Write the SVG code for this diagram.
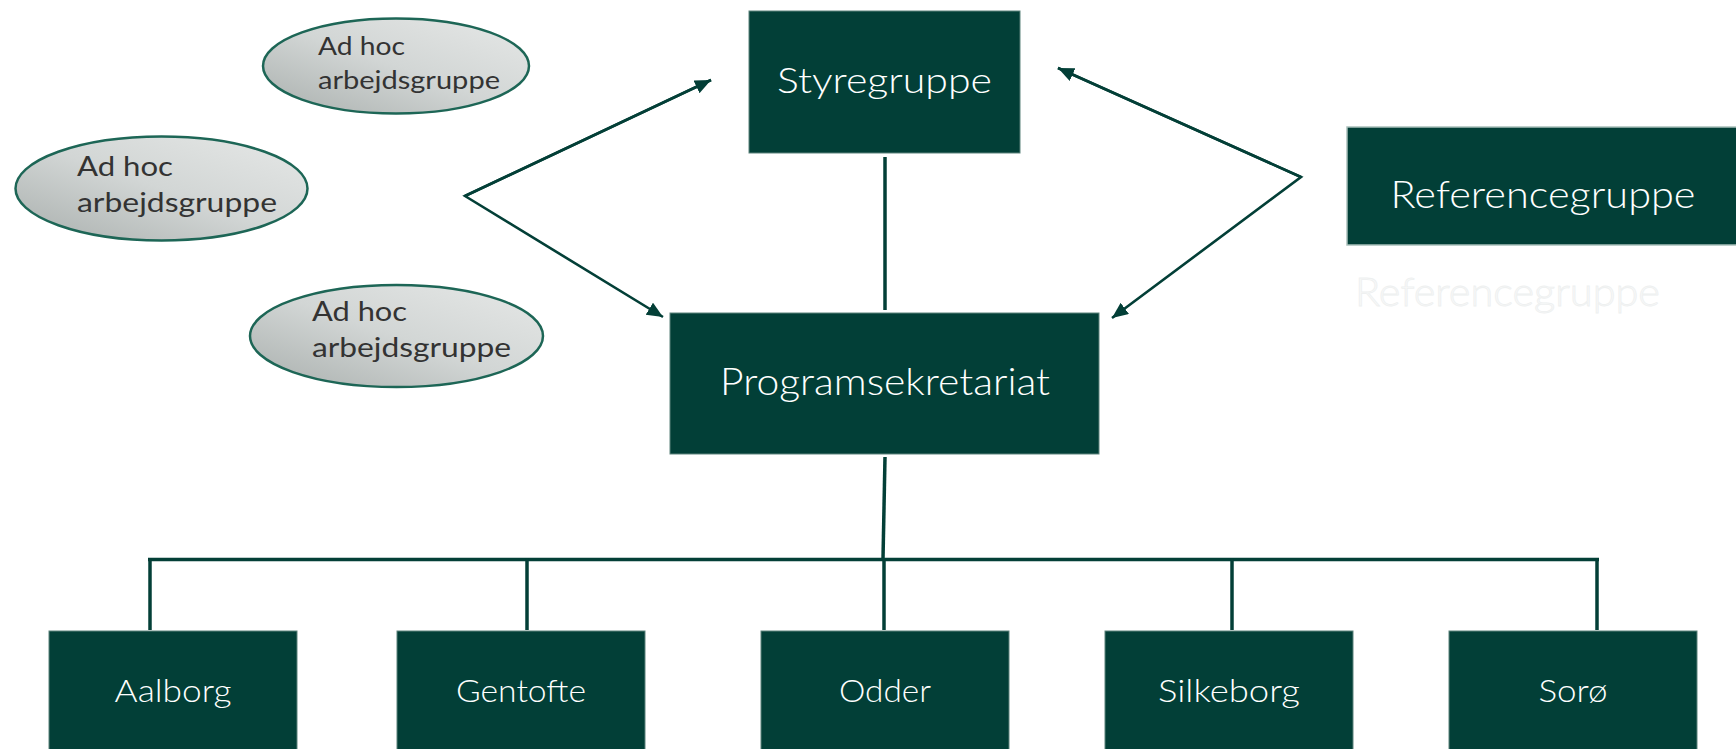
<svg xmlns="http://www.w3.org/2000/svg" width="1736" height="749" viewBox="0 0 1736 749">
  <defs>
    <linearGradient id="ellGrad" x1="1" y1="0" x2="0" y2="1">
      <stop offset="0" stop-color="#e6e8e7"/>
      <stop offset="0.5" stop-color="#d2d6d5"/>
      <stop offset="1" stop-color="#a9afad"/>
    </linearGradient>
    <marker id="arrow" markerUnits="userSpaceOnUse" markerWidth="18" markerHeight="16" refX="16" refY="7" orient="auto">
      <path d="M0,0 L16,7 L0,14 Z" fill="#033f37"/>
    </marker>
  </defs>
  <style>
    .box { fill: #023f37; stroke: #5d837c; stroke-width: 1; }
    .boxText { font-family: Lato, "Open Sans", "Liberation Sans", sans-serif; font-weight: 300; fill: #ffffff; text-anchor: middle; }
    .ell { fill: url(#ellGrad); stroke: #1d6656; stroke-width: 2.5; }
    .ellText { font-family: Lato, "Open Sans", "Liberation Sans", sans-serif; font-weight: 400; fill: #333333; }
    .conn { stroke: #033f37; fill: none; }
  </style>
  <rect width="1736" height="749" fill="#ffffff"/>

  <g id="connectors">
    <line class="conn" x1="885" y1="157" x2="885" y2="310" stroke-width="3.5"/>
    <line class="conn" x1="885" y1="457" x2="883" y2="559" stroke-width="3.5"/>
    <line class="conn" x1="148" y1="559.5" x2="1599" y2="559.5" stroke-width="3.5"/>
    <line class="conn" x1="150" y1="558" x2="150" y2="630" stroke-width="3.5"/>
    <line class="conn" x1="527" y1="558" x2="527" y2="630" stroke-width="3.5"/>
    <line class="conn" x1="884" y1="558" x2="884" y2="630" stroke-width="3.5"/>
    <line class="conn" x1="1232" y1="558" x2="1232" y2="630" stroke-width="3.5"/>
    <line class="conn" x1="1597" y1="558" x2="1597" y2="630" stroke-width="3.5"/>
    <polyline class="conn" points="711,80 465,196 663,317" stroke-width="2.6" marker-end="url(#arrow)"/>
    <line class="conn" x1="465" y1="196" x2="711" y2="80" stroke-width="2.6" marker-end="url(#arrow)"/>
    <polyline class="conn" points="1058,68 1301,177 1112,318" stroke-width="2.6" marker-end="url(#arrow)"/>
    <line class="conn" x1="1301" y1="177" x2="1058" y2="68" stroke-width="2.6" marker-end="url(#arrow)"/>
  </g>

  <g id="adhoc1">
    <ellipse class="ell" cx="396" cy="66" rx="133" ry="47.5"/>
    <text class="ellText" font-size="25" lengthAdjust="spacingAndGlyphs"><tspan x="318" y="55" textLength="87" lengthAdjust="spacingAndGlyphs">Ad hoc</tspan><tspan x="318" y="89" textLength="182" lengthAdjust="spacingAndGlyphs">arbejdsgruppe</tspan></text>
  </g>
  <g id="adhoc2">
    <ellipse class="ell" cx="161.5" cy="188.5" rx="146" ry="52"/>
    <text class="ellText" font-size="27"><tspan x="77" y="176" textLength="96" lengthAdjust="spacingAndGlyphs">Ad hoc</tspan><tspan x="77" y="212" textLength="200" lengthAdjust="spacingAndGlyphs">arbejdsgruppe</tspan></text>
  </g>
  <g id="adhoc3">
    <ellipse class="ell" cx="396.5" cy="336" rx="146.5" ry="51"/>
    <text class="ellText" font-size="27"><tspan x="312" y="321" textLength="95" lengthAdjust="spacingAndGlyphs">Ad hoc</tspan><tspan x="312" y="357" textLength="199" lengthAdjust="spacingAndGlyphs">arbejdsgruppe</tspan></text>
  </g>

  <g id="styregruppe">
    <rect class="box" x="749" y="11" width="271" height="142"/>
    <text class="boxText" x="884.5" y="93" font-size="36" textLength="215" lengthAdjust="spacingAndGlyphs">Styregruppe</text>
  </g>
  <g id="programsekretariat">
    <rect class="box" x="670" y="313" width="429" height="141"/>
    <text class="boxText" x="885" y="395" font-size="37" textLength="330" lengthAdjust="spacingAndGlyphs">Programsekretariat</text>
  </g>
  <g id="referencegruppe">
    <rect x="1347" y="127" width="400" height="118" fill="#023f37" stroke="#a9c0bb" stroke-width="1.5"/>
    <text class="boxText" x="1543" y="208" font-size="38" textLength="305" lengthAdjust="spacingAndGlyphs">Referencegruppe</text>
    <text x="1355" y="306" font-family="Lato, 'Liberation Sans', sans-serif" font-weight="300" font-size="40" fill="#f8f9f9" stroke="#eef0f0" stroke-width="0.8" textLength="305" lengthAdjust="spacingAndGlyphs">Referencegruppe</text>
  </g>

  <g id="aalborg">
    <rect class="box" x="49" y="631" width="248" height="130"/>
    <text class="boxText" x="173" y="702" font-size="31" textLength="117" lengthAdjust="spacingAndGlyphs">Aalborg</text>
  </g>
  <g id="gentofte">
    <rect class="box" x="397" y="631" width="248" height="130"/>
    <text class="boxText" x="521" y="702" font-size="31" textLength="130" lengthAdjust="spacingAndGlyphs">Gentofte</text>
  </g>
  <g id="odder">
    <rect class="box" x="761" y="631" width="248" height="130"/>
    <text class="boxText" x="885" y="702" font-size="31" textLength="92" lengthAdjust="spacingAndGlyphs">Odder</text>
  </g>
  <g id="silkeborg">
    <rect class="box" x="1105" y="631" width="248" height="130"/>
    <text class="boxText" x="1229" y="702" font-size="31" textLength="142" lengthAdjust="spacingAndGlyphs">Silkeborg</text>
  </g>
  <g id="soroe">
    <rect class="box" x="1449" y="631" width="248" height="130"/>
    <text class="boxText" x="1573" y="702" font-size="31" textLength="69" lengthAdjust="spacingAndGlyphs">Sorø</text>
  </g>
</svg>
